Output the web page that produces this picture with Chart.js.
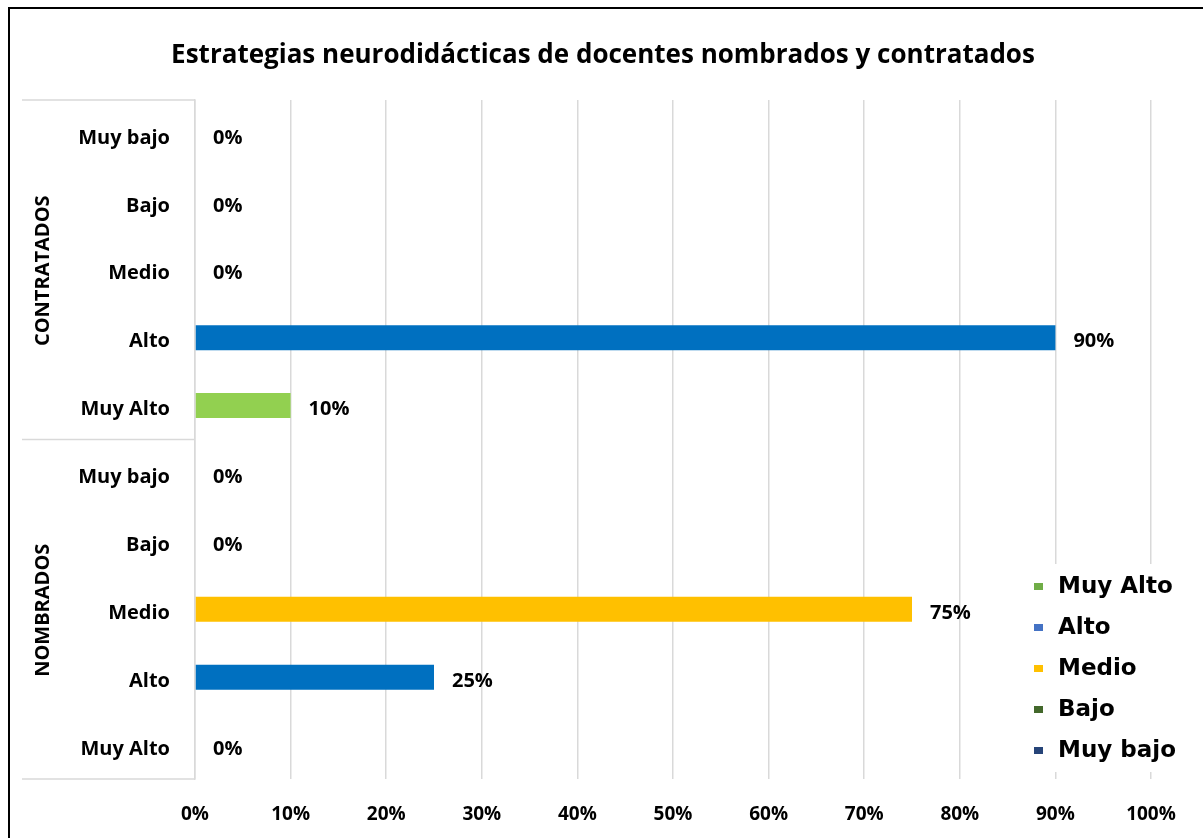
<!DOCTYPE html>
<html>
<head>
<meta charset="utf-8">
<script src="https://cdn.jsdelivr.net/npm/chart.js@4.4.0/dist/chart.umd.min.js"></script>
<style>
body { margin: 0; background: #fff; }
canvas { display: block; }
</style>
</head>
<body>
<canvas id="grafico" width="1203" height="838"></canvas>
<script>
// datos
var titulo = 'Estrategias neurodidácticas de docentes nombrados y contratados';
var grupos = ['CONTRATADOS', 'NOMBRADOS'];
var categorias = ['Muy bajo', 'Bajo', 'Medio', 'Alto', 'Muy Alto', 'Muy bajo', 'Bajo', 'Medio', 'Alto', 'Muy Alto'];
var valores = [0, 0, 0, 90, 10, 0, 0, 75, 25, 0];
var niveles = ['Muy Alto', 'Alto', 'Medio', 'Bajo', 'Muy bajo'];
var coloresBarra = ['#92D050', '#0070C0', '#FFC000', '#3F6B2A', '#1F3864'];
var coloresLeyenda = ['#70AD47', '#4472C4', '#FFC000', '#43682B', '#264478'];
var etiquetasX = ['0%', '10%', '20%', '30%', '40%', '50%', '60%', '70%', '80%', '90%', '100%'];

var fuente = '"Open Sans", "Liberation Sans", sans-serif';

// un dataset por nivel, solo con valor en sus categorias
var datasets = [];
for (let n = 0; n < niveles.length; n++) {
    var serie = [];
    for (let i = 0; i < categorias.length; i++) {
        serie.push(categorias[i] === niveles[n] ? valores[i] : null);
    }
    datasets.push({
        label: niveles[n],
        data: serie,
        backgroundColor: coloresBarra[n],
        borderWidth: 0,
        inflateAmount: 0,
        barThickness: 25
    });
}

var decorado = {
    id: 'decorado',
    afterDatasetsDraw: function (chart) {
        var ctx = chart.ctx;
        ctx.save();
        ctx.fillStyle = '#000';
        ctx.font = 'bold 20px ' + fuente;
        ctx.textAlign = 'left';
        ctx.textBaseline = 'middle';
        chart.data.datasets.forEach(function (ds, d) {
            var meta = chart.getDatasetMeta(d);
            meta.data.forEach(function (el, i) {
                if (ds.data[i] === null) return;
                ctx.fillText(ds.data[i] + '%', el.x + 18, el.y + 4);
            });
        });
        ctx.restore();
    },
    afterDraw: function (chart) {
        var ctx = chart.ctx;
        var area = chart.chartArea;
        var ejeY = chart.scales.y;
        ctx.save();

        // titulo centrado en todo el lienzo
        ctx.fillStyle = '#000';
        ctx.font = 'bold 26px ' + fuente;
        ctx.textAlign = 'center';
        ctx.textBaseline = 'alphabetic';
        ctx.fillText(titulo, 603, 63);

        // separadores de grupos en el eje de categorias
        var medio = (ejeY.getPixelForValue(4) + ejeY.getPixelForValue(5)) / 2;
        var cortes = [area.top, medio, area.bottom];
        ctx.strokeStyle = '#D9D9D9';
        ctx.lineWidth = 1.5;
        cortes.forEach(function (y) {
            ctx.beginPath();
            ctx.moveTo(22, y);
            ctx.lineTo(area.left, y);
            ctx.stroke();
        });

        // nombres de grupo girados
        ctx.font = 'bold 20px ' + fuente;
        ctx.textBaseline = 'middle';
        for (let g = 0; g < grupos.length; g++) {
            var yc = (cortes[g] + cortes[g + 1]) / 2;
            ctx.save();
            ctx.translate(43, yc + 1);
            ctx.rotate(-Math.PI / 2);
            ctx.fillText(grupos[g], 0, 0);
            ctx.restore();
        }

        // leyenda encima de la cuadricula
        ctx.fillStyle = '#fff';
        ctx.fillRect(1030, 564, 165, 208);
        ctx.font = 'bold 23px "DejaVu Sans", sans-serif';
        ctx.textAlign = 'left';
        for (let n = 0; n < niveles.length; n++) {
            var yl = 587 + n * 41;
            ctx.fillStyle = coloresLeyenda[n];
            ctx.fillRect(1034, yl - 4, 9, 7);
            ctx.fillStyle = '#000';
            ctx.fillText(niveles[n], 1058, yl);
        }

        // borde exterior
        ctx.strokeStyle = '#000';
        ctx.lineWidth = 2;
        ctx.beginPath();
        ctx.moveTo(9, 838);
        ctx.lineTo(9, 8);
        ctx.lineTo(1203, 8);
        ctx.stroke();
        ctx.restore();
    }
};

var ctx = document.getElementById('grafico').getContext('2d');
var chart = new Chart(ctx, {
    type: 'bar',
    data: {
        labels: categorias,
        datasets: datasets
    },
    options: {
        indexAxis: 'y',
        responsive: false,
        animation: false,
        layout: {
            padding: { left: 0, right: 52, top: 100, bottom: 0 }
        },
        scales: {
            x: {
                min: 0,
                max: 100,
                ticks: {
                    stepSize: 10,
                    color: '#000',
                    padding: 24,
                    font: { family: fuente, size: 19, weight: 'bold' },
                    callback: function (v, i) { return etiquetasX[i]; }
                },
                grid: { color: '#D9D9D9', lineWidth: 1.5, drawTicks: false },
                border: { display: false },
                afterFit: function (scale) { scale.height = 59; }
            },
            y: {
                stacked: true,
                ticks: {
                    color: '#000',
                    padding: 25,
                    labelOffset: 4,
                    font: { family: fuente, size: 20, weight: 'bold' }
                },
                grid: { display: false, drawTicks: false },
                border: { display: true, color: '#D9D9D9', width: 1.5 },
                afterFit: function (scale) { scale.width = 195; }
            }
        },
        plugins: {
            legend: { display: false },
            tooltip: { enabled: false },
            title: { display: false }
        }
    },
    plugins: [decorado]
});
</script>
</body>
</html>
